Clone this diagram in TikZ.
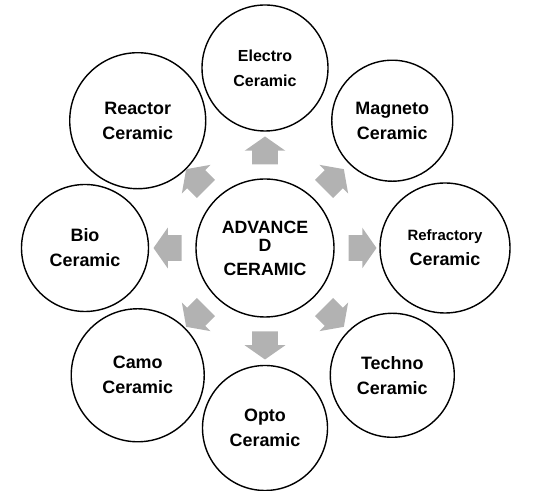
\documentclass[tikz,border=0pt]{standalone}
\usepackage{fontspec}
\setmainfont{Liberation Sans}
\usepackage{tikz}
\usetikzlibrary{shapes.arrows, positioning}
\definecolor{arrowgray}{RGB}{178,178,178}

\begin{document}
\begin{tikzpicture}[
    ceramic/.style = {circle, draw, line width=0.8pt, inner sep=0pt, align=center},
    outarrow/.style = {single arrow, fill=arrowgray, draw=none,
      inner xsep=0pt, inner ysep=0.25cm,
      minimum height=0.56cm, minimum width=0.8cm,
      single arrow head extend=0.15cm, single arrow tip angle=110}
  ]
  \useasboundingbox (0,0) rectangle (10.68,9.82);
  \node [ceramic, minimum size=2.76cm, font=\bfseries\fontsize{10.1}{13.6}\selectfont] (c) at (5.30,4.86) {ADVANCE\\[-3.4pt]D\\CERAMIC};

  \foreach \a/\t/\d/\f [count=\i] in {90/{Electro\\Ceramic}/2.52/9.1,
      45/{Magneto\\Ceramic}/2.42/10.2,
      0/{{\fontsize{8.5}{14.2}\selectfont Refractory}\\Ceramic}/2.6/10.2,
      -45/{Techno\\Ceramic}/2.48/10.2,
      -90/{Opto\\Ceramic}/2.5/10.2,
      -135/{Camo\\Ceramic}/2.66/10.2,
      180/{Bio\\Ceramic}/2.54/10.2,
      135/{Reactor\\Ceramic}/2.72/10.2}{
    \node [ceramic, minimum size=\d cm, font=\bfseries\fontsize{\f}{14.2}\selectfont] (o\i) at ([shift={(\a:3.6)}]c.center) {\t};
    \node [outarrow, rotate=\a] (a\i) at ([shift={(\a:1.86)}]c.center) {};
  }
\end{tikzpicture}
\end{document}
